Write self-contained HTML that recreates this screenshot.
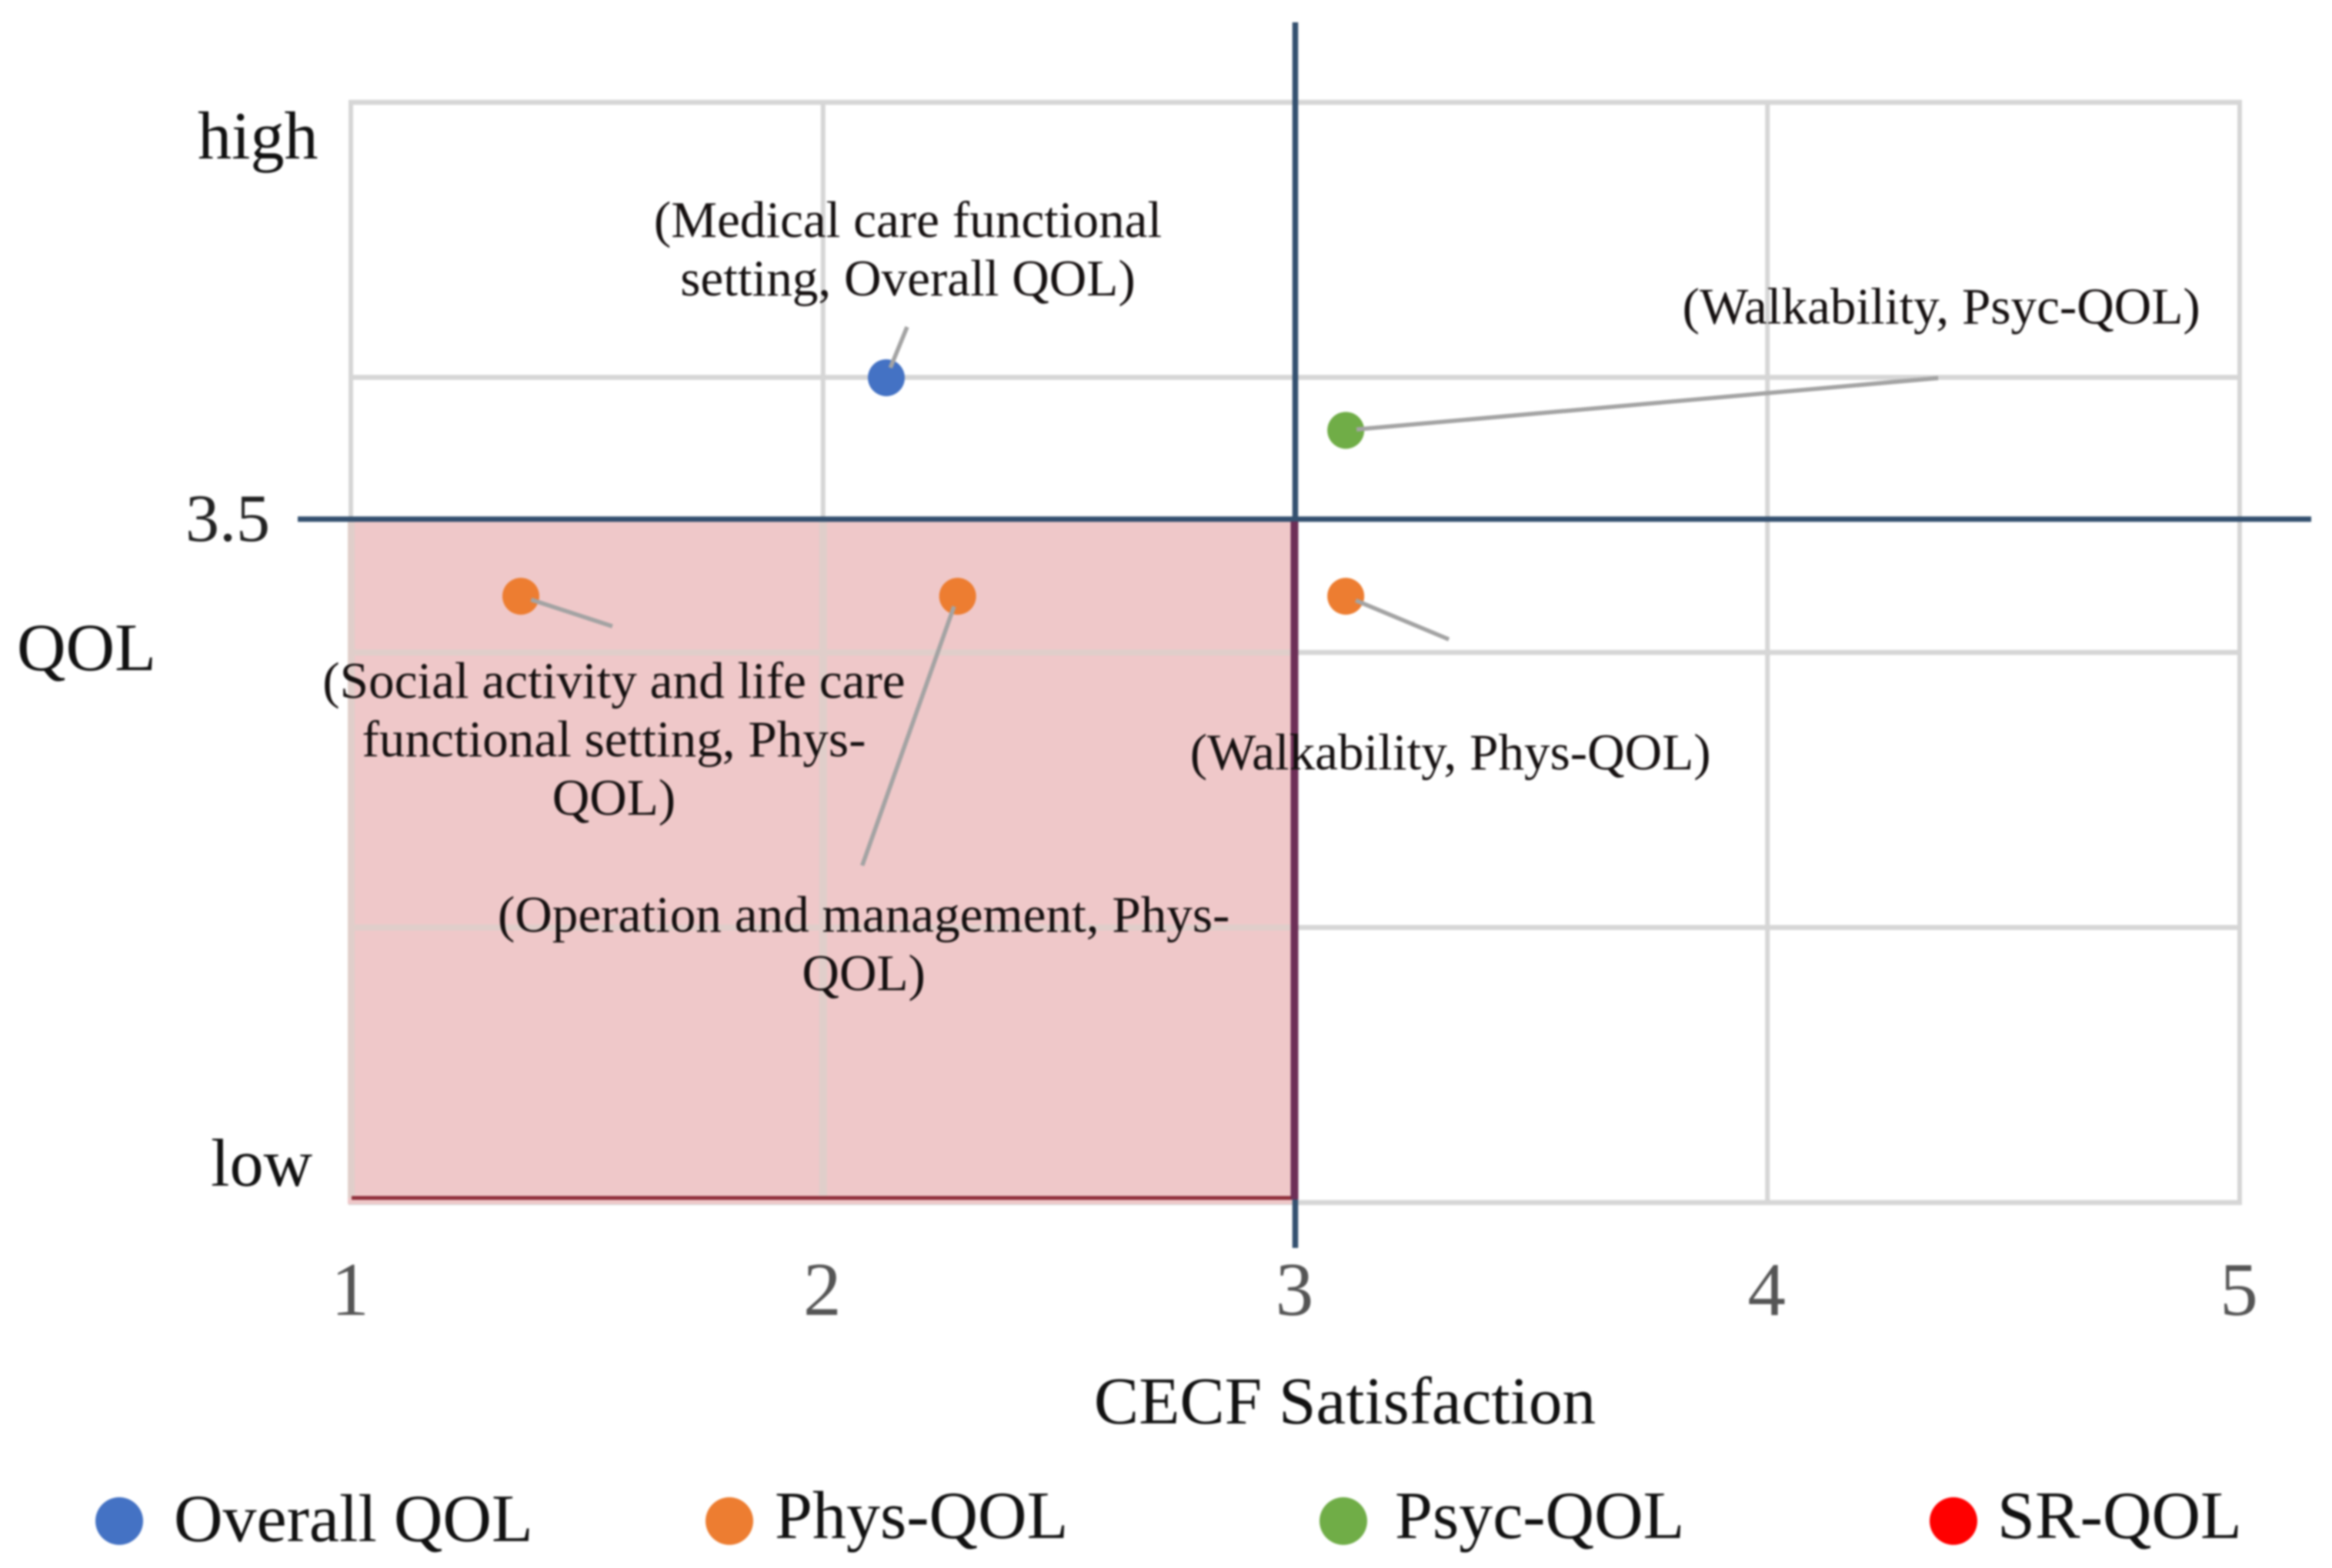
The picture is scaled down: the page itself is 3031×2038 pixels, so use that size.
<!DOCTYPE html>
<html>
<head>
<meta charset="utf-8">
<title>CECF Satisfaction vs QOL</title>
<style>
html,body{margin:0;padding:0;background:#fff;width:3031px;height:2038px;overflow:hidden}
svg{display:block;filter:blur(1.2px)}
text{font-family:"Liberation Serif",serif}
</style>
</head>
<body>
<svg id="chart" xmlns="http://www.w3.org/2000/svg" width="3031" height="2038" viewBox="0 0 3031 2038"></svg>
<script>
const xTicks = [1, 2, 3, 4, 5];
const yBounds = [3.0, 3.805];
const yTickLabels = ["low", "3.5", "high"];
const thresholdX = 3;
const thresholdY = 3.5;
const seriesNames = ["Overall QOL", "Phys-QOL", "Psyc-QOL", "SR-QOL"];
const overallX = [2.134];
const overallY = [3.6035];
const physX = [1.36, 2.285, 3.107];
const physY = [3.4436, 3.4436, 3.4436];
const psycX = [3.107];
const psycY = [3.565];
const srX = [];
const srY = [];

const overallLabels = [["(Medical care functional", "setting, Overall QOL)"]];
const physLabels = [
  ["(Social activity and life care", "functional setting, Phys-", "QOL)"],
  ["(Operation and management, Phys-", "QOL)"],
  ["(Walkability, Phys-QOL)"]
];
const psycLabels = [["(Walkability, Psyc-QOL)"]];

const overallCallouts = [{lx:27, ly:-66, tx:28, ty:-183}];
const physCallouts = [
  {lx:119, ly:39, tx:121, ty:132},
  {lx:-124, ly:350, tx:-122, ty:436},
  {lx:134, ly:56, tx:136, ty:225}
];
const psycCallouts = [{lx:770, ly:-68, tx:774, ty:-139}];

const plotLeft = 456, plotRight = 2911, plotTop = 133, plotBottom = 1563;
const colors = ["#4472C4", "#ED7D31", "#70AD47", "#FF0000"];
const NS = "http://www.w3.org/2000/svg";
const svg = document.getElementById("chart");

function xScale(v) {
  return plotLeft + (v - xTicks[0]) / (xTicks[xTicks.length - 1] - xTicks[0]) * (plotRight - plotLeft);
}
function yScale(v) {
  return plotBottom - (v - yBounds[0]) / (yBounds[1] - yBounds[0]) * (plotBottom - plotTop);
}
function make(tag, attrs, text) {
  const el = document.createElementNS(NS, tag);
  for (const k in attrs) el.setAttribute(k, attrs[k]);
  if (text !== undefined) el.textContent = text;
  svg.appendChild(el);
  return el;
}

// background
let bg = make("rect", {x:0, y:0, width:3031, height:2038, fill:"#ffffff"});



// gridlines
function drawGrid(color, hw, vw, clip) {
  for (let i = 0; i <= 4; i++) {
    const gy = plotBottom - i / 4 * (plotBottom - plotTop);
    const g = make("line", {x1:plotLeft - 3, x2:plotRight + 3, y1:gy, y2:gy, stroke:color, "stroke-width":hw});
    if (clip) g.setAttribute("clip-path", "url(#quad-clip)");
    
    
  }
  xTicks.forEach(function (t) {
    const g = make("line", {x1:xScale(t), x2:xScale(t), y1:plotTop - 3, y2:plotBottom + 3, stroke:color, "stroke-width":vw});
    if (clip) g.setAttribute("clip-path", "url(#quad-clip)");
    
    
  });
}
drawGrid("#D6D6D6", 6.5, 6, false);

// highlighted low-low quadrant
const qLeft = xScale(xTicks[0]) - 4, qRight = xScale(thresholdX) - 4;
const qTop = yScale(thresholdY), qBottom = plotBottom + 2;
let quad = make("rect", {x:qLeft, y:qTop, width:qRight - qLeft, height:qBottom - qTop, fill:"#EFC8C9"});



let defs = make("defs", {});
const clip = document.createElementNS(NS, "clipPath");
clip.setAttribute("id", "quad-clip");
const clipRect = document.createElementNS(NS, "rect");
clipRect.setAttribute("x", qLeft);
clipRect.setAttribute("y", qTop);
clipRect.setAttribute("width", qRight - qLeft);
clipRect.setAttribute("height", qBottom - qTop - 8);
clip.appendChild(clipRect);
defs.appendChild(clip);
drawGrid("#E0CECA", 8, 10, true);

let quadBottom = make("line", {x1:xScale(xTicks[0]) + 1, x2:qRight, y1:plotBottom - 6, y2:plotBottom - 6, stroke:"#8F2F3A", "stroke-width":5});



// threshold lines
let hLine = make("line", {x1:387, x2:3004, y1:yScale(thresholdY), y2:yScale(thresholdY), stroke:"#34506F", "stroke-width":7});


let vLine = make("line", {x1:xScale(thresholdX), x2:xScale(thresholdX), y1:29, y2:1622, stroke:"#34506F", "stroke-width":7.5});


let vLineTint = make("line", {x1:xScale(thresholdX) - 1, x2:xScale(thresholdX) - 1, y1:yScale(thresholdY) + 3, y2:plotBottom - 4, stroke:"#6D2F57", "stroke-width":10});



// x tick labels
xTicks.forEach(function (t) {
  const l = make("text", {x:xScale(t) - 1, y:1709, "font-size":99, fill:"#555555", "text-anchor":"middle"}, String(t));
  
  
});

// y labels
let yHigh = make("text", {x:257, y:206, "font-size":88, fill:"#111"}, yTickLabels[2]);


let yMid = make("text", {x:241, y:703, "font-size":88, fill:"#222"}, yTickLabels[1]);


let yLow = make("text", {x:274, y:1541, "font-size":88, fill:"#111"}, yTickLabels[0]);



// axis titles
let yTitle = make("text", {x:22, y:871, "font-size":88, fill:"#111"}, "QOL");


let xTitle = make("text", {x:1748, y:1850, "font-size":87.3, fill:"#111", "text-anchor":"middle"}, "CECF Satisfaction");



// points, leaders, labels
function drawSeries(xs, ys, color, callouts, labels, key) {
  xs.forEach(function (xv, i) {
    const px = xScale(xv), py = yScale(ys[i]);
    const dot = make("circle", {cx:px, cy:py, r:24, fill:color});
    
    
    const c = callouts[i];
    if (!c) return;
    const len = Math.hypot(c.lx, c.ly);
    const lead = make("line", {x1:px + c.lx / len * 14, y1:py + c.ly / len * 14, x2:px + c.lx, y2:py + c.ly, stroke:"#A3A3A3", "stroke-width":5.5});
    
    
    labels[i].forEach(function (line, j) {
      const t = make("text", {x:px + c.tx, y:py + c.ty + j * 76, "font-size":67.2, fill:"#151010", "text-anchor":"middle"}, line);
      
      
    });
  });
}
drawSeries(overallX, overallY, colors[0], overallCallouts, overallLabels, "overall-qol");
drawSeries(physX, physY, colors[1], physCallouts, physLabels, "phys-qol");
drawSeries(psycX, psycY, colors[2], psycCallouts, psycLabels, "psyc-qol");
drawSeries(srX, srY, colors[3], [], [], "sr-qol");

// legend
const legendMarkerX = [155, 948, 1746, 2539];
const legendTextX = [226, 1007, 1813, 2596];
const legendBaseline = [2003, 1999, 1999, 1999];
seriesNames.forEach(function (name, i) {
  const m = make("circle", {cx:legendMarkerX[i], cy:1977, r:31, fill:colors[i]});
  
  
  const t = make("text", {x:legendTextX[i], y:legendBaseline[i], "font-size":88, fill:"#111"}, name);
  
  
});
</script>
</body>
</html>
